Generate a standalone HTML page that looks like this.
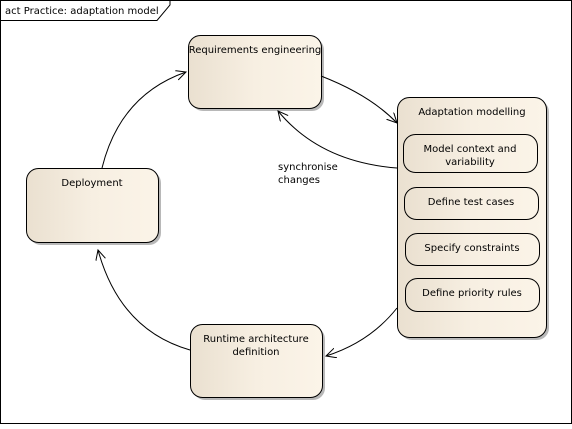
<!DOCTYPE html>
<html><head><style>
body{margin:0;background:#fff;}
svg text{font-family:"DejaVu Sans","Liberation Sans",sans-serif;font-size:10px;fill:#000;}
</style></head><body>
<svg width="572" height="424" xmlns="http://www.w3.org/2000/svg">
<defs>
<linearGradient id="g" x1="0" x2="1" y1="0" y2="0">
<stop offset="0" stop-color="#eae0d0"/><stop offset="0.5" stop-color="#f7efe2"/><stop offset="1" stop-color="#fbf4e8"/>
</linearGradient>
<marker id="a" markerWidth="12" markerHeight="12" refX="10" refY="5" orient="auto" markerUnits="userSpaceOnUse">
<path d="M0,0 L10,5 L0,10" fill="none" stroke="#000" stroke-width="1"/>
</marker>
</defs>
<rect x="0.5" y="0.5" width="571" height="423" fill="#fff" stroke="#000"/>
<path d="M0.5,20.5 H157 L170,5 V0.5" fill="none" stroke="#000"/>
<text x="5" y="14">act Practice: adaptation model</text>

<g fill="#888" opacity="0.6">
<rect x="191" y="38" width="133" height="73" rx="12"/>
<rect x="400" y="100" width="149" height="240" rx="12"/>
<rect x="29" y="171" width="132" height="74" rx="12"/>
<rect x="193" y="327" width="132" height="73" rx="12"/>
</g>
<g stroke="#000" fill="url(#g)">
<rect x="188.5" y="35.5" width="133" height="73" rx="12"/>
<rect x="397.5" y="97.5" width="149" height="240" rx="12"/>
<rect x="26.5" y="168.5" width="132" height="74" rx="12"/>
<rect x="190.5" y="324.5" width="132" height="73" rx="12"/>
<rect x="403.5" y="134.5" width="134" height="38" rx="12"/>
<rect x="404.5" y="187.5" width="134" height="32" rx="12"/>
<rect x="405.5" y="233.5" width="134" height="32" rx="12"/>
<rect x="405.5" y="278.5" width="134" height="33" rx="12"/>
</g>
<text x="255" y="53" text-anchor="middle">Requirements engineering</text>
<text x="472" y="115" text-anchor="middle">Adaptation modelling</text>
<text x="470" y="152" text-anchor="middle">Model context and</text>
<text x="470" y="165" text-anchor="middle">variability</text>
<text x="471" y="205" text-anchor="middle">Define test cases</text>
<text x="472" y="251" text-anchor="middle">Specify constraints</text>
<text x="472" y="296" text-anchor="middle">Define priority rules</text>
<text x="92" y="186" text-anchor="middle">Deployment</text>
<text x="256" y="342" text-anchor="middle">Runtime architecture</text>
<text x="256" y="355" text-anchor="middle">definition</text>
<text x="278" y="170">synchronise</text>
<text x="278" y="183">changes</text>

<g fill="none" stroke="#000" stroke-width="1">
<path d="M321,76 Q370,95 397,123" marker-end="url(#a)"/>
<path d="M397,168 Q320,162 278,111" marker-end="url(#a)"/>
<path d="M397,308 Q370,342 326,356" marker-end="url(#a)"/>
<path d="M190,350 Q120,330 98,250" marker-end="url(#a)"/>
<path d="M102,168 Q120,95 186,72" marker-end="url(#a)"/>
</g>
</svg>
</body></html>
